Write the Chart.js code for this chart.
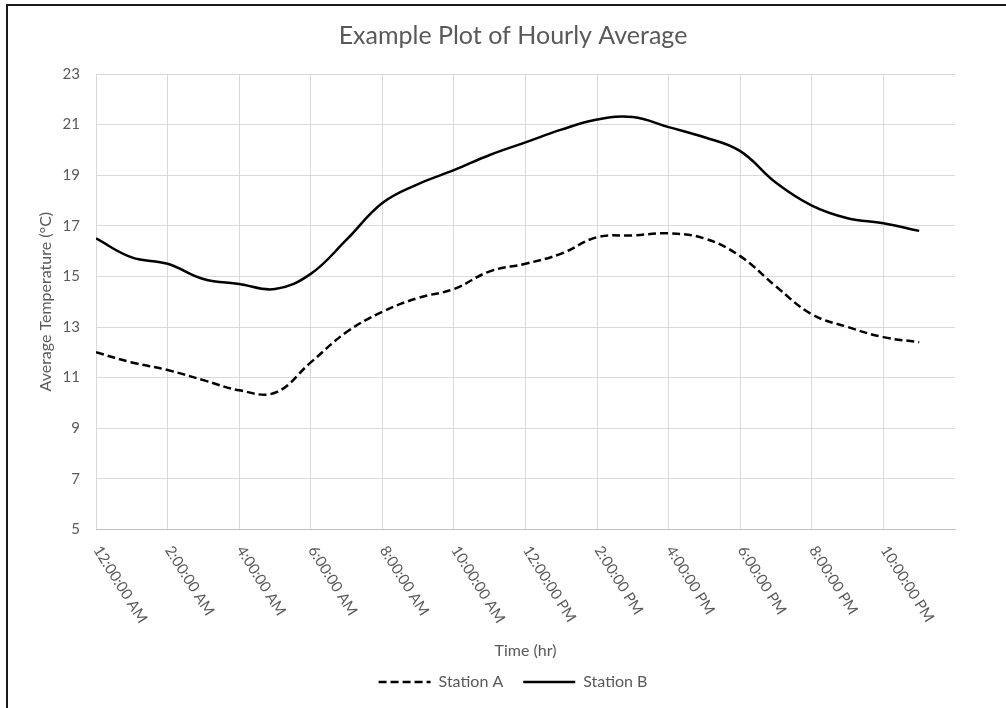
<!DOCTYPE html>
<html lang="en">
<head>
  <meta charset="UTF-8">
  <title>Example Plot of Hourly Average</title>
  <script src="https://cdn.jsdelivr.net/npm/chart.js"></script>
  <style>
    html, body { margin: 0; padding: 0; background: #fff; overflow: hidden; }
    /* the original chart runs a little past the right edge of the window */
    .wrap { position: relative; width: 1018px; height: 708px; }
    .frame {
      position: absolute; left: 6px; top: 4px; width: 1100px; height: 800px;
      border: 2px solid #1a1a1a; pointer-events: none;
    }
  </style>
</head>
<body>
  <div class="wrap">
    <canvas id="hourlyChart"></canvas>
    <div class="frame"></div>
  </div>

  <script>
    // hour of day (0 = midnight)
    const hours = [0, 1, 2, 3, 4, 5, 6, 7, 8, 9, 10, 11, 12, 13, 14, 15, 16, 17, 18, 19, 20, 21, 22, 23];
    const stationA = [12.0, 11.6, 11.3, 10.9, 10.5, 10.4, 11.6, 12.8, 13.6, 14.15, 14.5, 15.2,
                      15.5, 15.9, 16.55, 16.62, 16.7, 16.5, 15.8, 14.6, 13.5, 13.0, 12.6, 12.4];
    const stationB = [16.5, 15.75, 15.5, 14.9, 14.7, 14.5, 15.1, 16.45, 17.9, 18.65, 19.2, 19.8,
                      20.3, 20.8, 21.2, 21.3, 20.9, 20.5, 19.95, 18.7, 17.8, 17.3, 17.1, 16.8];
    const timeLabels = ['12:00:00 AM', '2:00:00 AM', '4:00:00 AM', '6:00:00 AM', '8:00:00 AM', '10:00:00 AM',
                        '12:00:00 PM', '2:00:00 PM', '4:00:00 PM', '6:00:00 PM', '8:00:00 PM', '10:00:00 PM'];

    const textColor = '#595959';
    const gridColor = '#d9d9d9';

    // x labels run down-right like the Excel original, which Chart.js can't rotate that way
    const slantedTicks = {
      id: 'slantedTicks',
      afterDraw(chart) {
        const xs = chart.scales.x;
        const ctx = chart.ctx;
        ctx.save();
        ctx.fillStyle = textColor;
        ctx.font = '15px Lato';
        ctx.textAlign = 'left';
        ctx.textBaseline = 'middle';
        xs.ticks.forEach(t => {
          const label = timeLabels[t.value / 2];
          if (!label) return;
          ctx.save();
          ctx.translate(xs.getPixelForValue(t.value) + 1, xs.top + 18);
          ctx.rotate(58 * Math.PI / 180);
          ctx.fillText(label, 0, 0);
          ctx.restore();
        });
        ctx.restore();
      }
    };

    const toPoints = vals => hours.map((h, i) => ({ x: h, y: vals[i] }));

    new Chart(document.getElementById('hourlyChart'), {
      type: 'line',
      data: {
        datasets: [
          {
            label: 'Station A',
            data: toPoints(stationA),
            borderColor: '#000',
            backgroundColor: '#000',
            borderWidth: 2.5,
            borderDash: [8, 4],
            pointRadius: 0,
            tension: 0.4
          },
          {
            label: 'Station B',
            data: toPoints(stationB),
            borderColor: '#000',
            backgroundColor: '#000',
            borderWidth: 2.5,
            pointRadius: 0,
            tension: 0.4
          }
        ]
      },
      options: {
        responsive: true,
        maintainAspectRatio: false,
        animation: false,
        layout: { padding: { left: 8, right: 0, top: 0, bottom: 8 } },
        plugins: {
          title: {
            display: true,
            text: 'Example Plot of Hourly Average',
            color: textColor,
            font: { family: 'Lato', size: 25, weight: 'normal' },
            padding: { top: 21, bottom: 23 }
          },
          legend: {
            position: 'bottom',
            labels: {
              color: textColor,
              font: { family: 'Lato', size: 16 },
              usePointStyle: true,
              pointStyle: 'line',
              pointStyleWidth: 52,
              padding: 20,
              // point-style legend items lose the dataset's dash, put it back
              generateLabels: chart => Chart.defaults.plugins.legend.labels.generateLabels(chart).map(item => {
                const ds = chart.data.datasets[item.datasetIndex];
                item.lineDash = ds.borderDash || [];
                item.lineWidth = ds.borderWidth;
                return item;
              })
            }
          },
          tooltip: { enabled: false }
        },
        scales: {
          x: {
            type: 'linear',
            min: 0,
            max: 24,
            ticks: { stepSize: 2, display: false },
            grid: {
              color: ctx => ctx.tick && ctx.tick.value === 24 ? 'rgba(0,0,0,0)' : gridColor,
              drawTicks: false
            },
            border: { color: '#bfbfbf' },
            title: {
              display: true,
              text: 'Time (hr)',
              color: textColor,
              font: { family: 'Lato', size: 16 },
              padding: { top: 0, bottom: -6 }
            },
            afterFit: s => { s.height = 124.6; }
          },
          y: {
            min: 5,
            max: 23,
            ticks: {
              stepSize: 2,
              color: textColor,
              font: { family: 'Lato', size: 15 },
              padding: 16
            },
            grid: { color: gridColor, drawTicks: false },
            border: { display: false },
            title: {
              display: true,
              text: 'Average Temperature (°C)',
              color: textColor,
              font: { family: 'Lato', size: 16 },
              padding: { top: 28, bottom: 0 }
            },
            afterFit: s => { s.width = 88; }
          },
          // empty strip on the right so the plot ends where the original does
          spacer: {
            position: 'right',
            display: true,
            ticks: { display: false },
            grid: { display: false, drawTicks: false },
            border: { display: false },
            afterFit: s => { s.width = 63; }
          }
        }
      },
      plugins: [slantedTicks]
    });
  </script>
</body>
</html>
